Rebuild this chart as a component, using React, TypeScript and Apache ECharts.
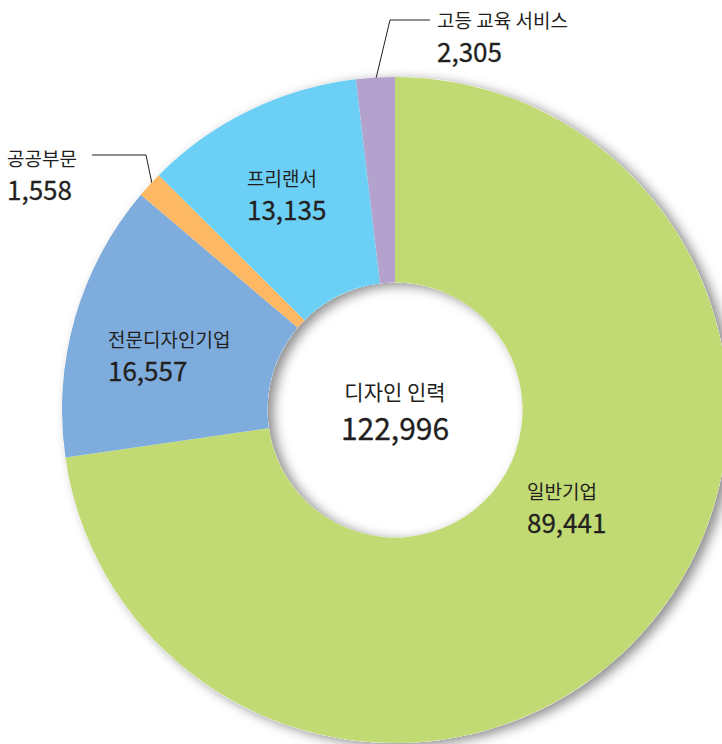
import React, { useEffect, useRef } from "react";
import * as echarts from "echarts";

const categories = ["일반기업", "전문디자인기업", "공공부문", "프리랜서", "고등 교육 서비스"];
const values = [89441, 16557, 1558, 13135, 2305];
const colors = ["#c1da73", "#7eacdc", "#fdb863", "#6ccff6", "#b3a2cd"];
const centerLabel = "디자인 인력";

// label placement (layout only)
const labelPos: { x: number; y: number; line?: number[][] }[] = [
  { x: 527, y: 506 },
  { x: 108, y: 354 },
  { x: 7, y: 173, line: [[155, 198], [146, 155], [92, 155]] },
  { x: 247, y: 193 },
  { x: 437, y: 35, line: [[373, 91], [390, 20], [430, 20]] },
];

const FONT = "'Noto Sans CJK KR', 'Noto Sans', sans-serif";

export default function App() {
  const ref = useRef<HTMLDivElement>(null);
  useEffect(() => {
    if (!ref.current) return;
    const chart = echarts.init(ref.current, undefined, { renderer: "svg" });
    const total = values.reduce((a, b) => a + b, 0);
    const fmt = (n: number) => n.toLocaleString("en-US");
    const center = [395, 410];
    const radius = [127.5, 333];
    chart.setOption({
      animation: false,
      backgroundColor: "#ffffff",
      textStyle: { fontFamily: FONT },
      series: [
        {
          type: "pie",
          z: 1,
          silent: true,
          center,
          radius,
          label: { show: false },
          labelLine: { show: false },
          itemStyle: {
            color: "#ffffff",
            shadowBlur: 12,
            shadowOffsetX: 6,
            shadowOffsetY: 3,
            shadowColor: "rgba(0,0,0,0.45)",
          },
          data: [{ value: 1 }],
        },
        {
          type: "pie",
          z: 2,
          center,
          radius,
          startAngle: 90,
          clockwise: true,
          avoidLabelOverlap: false,
          itemStyle: { borderWidth: 0 },
          data: categories.map((name, i) => {
            const outside = !!labelPos[i].line;
            return {
              name,
              value: values[i],
              itemStyle: { color: colors[i] },
              label: {
                show: true,
                position: outside ? "outside" : "inside",
              },
              labelLine: {
                show: outside,
                lineStyle: { color: "#231f20", width: 1 },
                length: 10,
                length2: 10,
              },
            };
          }),
          label: {
            fontFamily: FONT,
            color: "#231f20",
            align: "left",
            formatter: (p: any) => `{n|${p.name}}\n{v|${fmt(p.value)}}`,
            rich: {
              n: { fontSize: 19, lineHeight: 31, color: "#231f20", fontFamily: FONT },
              v: {
                fontSize: 26,
                lineHeight: 31,
                color: "#231f20",
                fontWeight: "normal",
                fontFamily: FONT,
                textBorderColor: "#231f20",
                textBorderWidth: 0.3,
              },
            },
          },
          labelLayout: (params: any) => {
            const lp = labelPos[params.dataIndex];
            const res: any = { x: lp.x, y: lp.y, align: "left", verticalAlign: "middle" };
            if (lp.line) res.labelLinePoints = lp.line;
            return res;
          },
        },
      ],
      graphic: [
        {
          type: "text",
          x: center[0],
          y: 391,
          z: 10,
          style: {
            text: centerLabel,
            fontSize: 21,
            fontFamily: FONT,
            fill: "#231f20",
            textAlign: "center",
            textVerticalAlign: "middle",
          },
        },
        {
          type: "text",
          x: center[0],
          y: 427,
          z: 10,
          style: {
            text: fmt(total),
            fontSize: 30,
            fontWeight: "normal",
            fontFamily: FONT,
            fill: "#231f20",
            stroke: "#231f20",
            lineWidth: 0.3,
            textAlign: "center",
            textVerticalAlign: "middle",
          },
        },
      ],
    });
    return () => chart.dispose();
  }, []);
  return (
    <div
      ref={ref}
      style={{ position: "fixed", left: 0, top: 0, width: 722, height: 744 }}
    />
  );
}
